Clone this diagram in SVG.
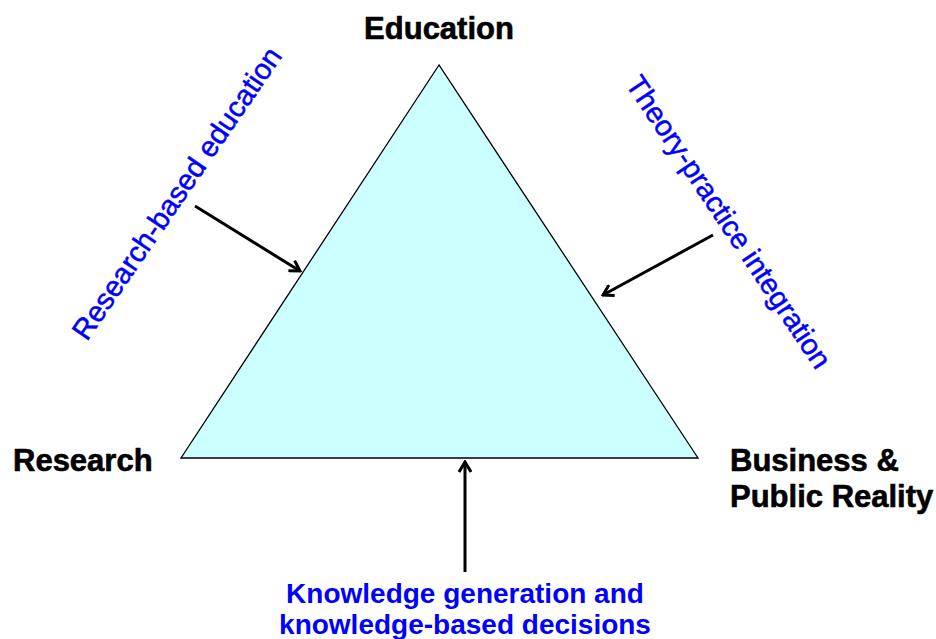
<svg xmlns="http://www.w3.org/2000/svg" width="936" height="639" viewBox="0 0 936 639">
<style>
.lbl{font-family:"Liberation Sans",Arial,sans-serif;font-weight:bold;font-size:31px;fill:#000;stroke:#000;stroke-width:0.6}
.blue{font-family:"Liberation Sans",Arial,sans-serif;fill:#0000FF}
.rot{font-size:29px;stroke:#0000FF;stroke-width:0.5}
.conn{stroke:#000;stroke-width:3;fill:none}
</style>
<defs>
<marker id="ah" viewBox="0 0 14 14" refX="12" refY="7" markerWidth="14" markerHeight="14" markerUnits="userSpaceOnUse" orient="auto">
<path d="M2,1 L12,7 L2,13" fill="none" stroke="#000" stroke-width="3"/>
</marker>
</defs>
<rect width="936" height="639" fill="#fff"/>
<g id="triangle">
<polygon points="439,65 181,458 698,458" fill="#CCFFFF" stroke="#000" stroke-width="1.3"/>
</g>
<g id="education"><text class="lbl" x="439" y="39" text-anchor="middle">Education</text></g>
<g id="research"><text class="lbl" x="13" y="471">Research</text></g>
<g id="business"><text class="lbl" x="730" y="471">Business &amp;</text><text class="lbl" x="730" y="507">Public Reality</text></g>
<g id="label-research-based"><text class="blue rot" text-anchor="middle" transform="translate(185,199) rotate(-55.6)">Research-based education</text></g>
<g id="label-theory-practice"><text class="blue rot" text-anchor="middle" transform="translate(720.5,227.5) rotate(56.3)">Theory-practice integration</text></g>
<g id="label-knowledge"><text class="blue" font-size="28" font-weight="bold" text-anchor="middle" x="465" y="603">Knowledge generation and</text><text class="blue" font-size="28" font-weight="bold" text-anchor="middle" x="465" y="634">knowledge-based decisions</text></g>
<g id="connectors">
<line class="conn" x1="195" y1="206" x2="300" y2="271" marker-end="url(#ah)"/>
<line class="conn" x1="713" y1="235" x2="603" y2="295" marker-end="url(#ah)"/>
<line class="conn" x1="465" y1="572" x2="465" y2="462" marker-end="url(#ah)"/>
</g>
</svg>
